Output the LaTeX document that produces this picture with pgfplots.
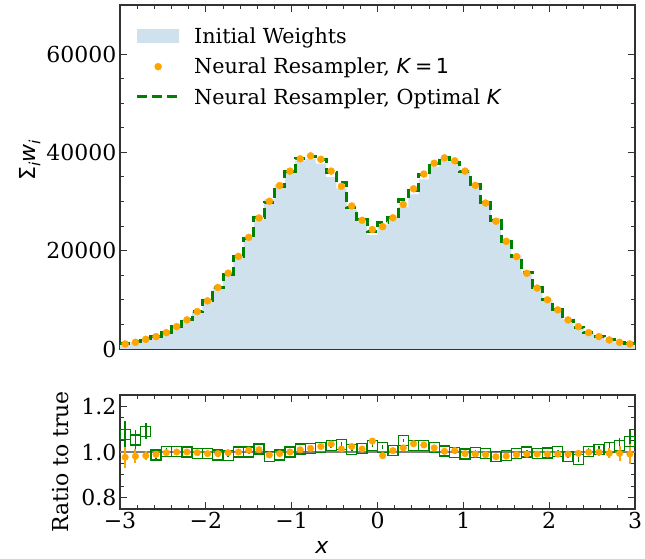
\documentclass[border=0pt]{standalone}
\usepackage{fontspec}
\setmainfont{DejaVu Serif}
\setsansfont{DejaVu Sans}
\usepackage{pgfplots}
\pgfplotsset{compat=1.18}
\usepackage{pgfplotstable}

\definecolor{fillblue}{RGB}{208,225,238}
\definecolor{morange}{RGB}{255,165,0}
\definecolor{mgreen}{RGB}{0,128,0}
\definecolor{framec}{RGB}{50,50,50}

% step edges: left bin edge, initial weights, optimal-K resampler
\pgfplotstableread{
xl F G
-3.00 1040 1120
-2.88 1390 1460
-2.76 2000 2180
-2.64 2550 2520
-2.52 3340 3350
-2.40 4560 4570
-2.28 5920 5920
-2.16 7640 7600
-2.04 9870 9790
-1.92 12610 12450
-1.80 15490 15260
-1.68 18840 18840
-1.56 22540 22540
-1.44 26400 26740
-1.32 30470 29860
-1.20 33490 33050
-1.08 36190 36190
-0.96 38320 38820
-0.84 38680 39260
-0.72 37700 38490
-0.60 34980 35920
-0.48 32680 33790
-0.36 28420 28730
-0.24 25860 26300
-0.12 23190 23890
0.00 25300 25830
0.12 26540 26700
0.24 28880 30320
0.36 31470 32350
0.48 34530 35500
0.60 37130 37840
0.72 38780 38940
0.84 38070 38030
0.96 36460 36130
1.08 33600 33570
1.20 30060 29880
1.32 26560 26080
1.44 22300 21940
1.56 19030 18900
1.68 15540 15540
1.80 12510 12420
1.92 10090 10050
2.04 8030 8040
2.16 5970 5860
2.28 4590 4440
2.40 3330 3340
2.52 2520 2550
2.64 1850 1890
2.76 1370 1410
2.88 1030 1080
3.00 1030 1080
}\steps

% bin centres: K=1 sum, ratios and errors
\pgfplotstableread{
xc O ro eo rg eg
-2.94 1020 0.977 0.045 1.075 0.060
-2.82 1360 0.981 0.030 1.053 0.045
-2.70 1970 0.984 0.020 1.090 0.035
-2.58 2520 0.990 0.015 0.987 0.020
-2.46 3330 0.997 0.012 1.003 0.015
-2.34 4560 1.000 0.010 1.002 0.010
-2.22 5920 1.000 0.009 1.000 0.008
-2.10 7620 0.997 0.008 0.995 0.008
-1.98 9800 0.993 0.007 0.992 0.008
-1.86 12520 0.993 0.007 0.987 0.008
-1.74 15440 0.997 0.007 0.985 0.008
-1.62 18840 1.000 0.007 1.000 0.008
-1.50 22720 1.008 0.007 1.000 0.008
-1.38 26660 1.010 0.007 1.013 0.008
-1.26 30070 0.987 0.007 0.980 0.008
-1.14 33260 0.993 0.007 0.987 0.008
-1.02 36190 1.000 0.007 1.000 0.008
-0.90 38700 1.010 0.007 1.013 0.008
-0.78 39300 1.016 0.007 1.015 0.008
-0.66 38600 1.024 0.007 1.021 0.008
-0.54 36200 1.035 0.007 1.027 0.008
-0.42 33100 1.013 0.007 1.034 0.008
-0.30 29100 1.024 0.007 1.011 0.008
-0.18 26200 1.013 0.007 1.017 0.008
-0.06 24300 1.048 0.007 1.030 0.008
0.06 24900 0.984 0.007 1.021 0.008
0.18 26700 1.006 0.007 1.006 0.008
0.30 29400 1.018 0.007 1.050 0.008
0.42 32600 1.036 0.007 1.028 0.008
0.54 35600 1.031 0.007 1.028 0.008
0.66 37800 1.018 0.007 1.019 0.008
0.78 38900 1.003 0.007 1.004 0.008
0.90 38300 1.006 0.007 0.999 0.008
1.02 36200 0.993 0.007 0.991 0.008
1.14 33300 0.991 0.007 0.999 0.008
1.26 29700 0.988 0.007 0.994 0.008
1.38 26000 0.979 0.007 0.982 0.008
1.50 21900 0.982 0.007 0.984 0.008
1.62 18800 0.988 0.007 0.993 0.008
1.74 15400 0.991 0.007 1.000 0.008
1.86 12400 0.991 0.007 0.993 0.008
1.98 10000 0.991 0.007 0.996 0.008
2.10 7960 0.991 0.008 1.001 0.008
2.22 5920 0.991 0.009 0.981 0.009
2.34 4560 0.994 0.010 0.967 0.010
2.46 3330 0.999 0.012 1.003 0.013
2.58 2520 0.999 0.016 1.010 0.018
2.70 1840 0.994 0.022 1.019 0.025
2.82 1360 0.994 0.032 1.027 0.035
2.94 1020 0.991 0.045 1.047 0.052
}\pts

\pgfplotsset{
  mystyle/.style={
    scale only axis, enlargelimits=false,
    xmin=-3, xmax=3,
    tick align=inside,
    major tick length=7pt, minor tick length=4pt,
    every tick/.style={framec, line width=1pt},
    axis line style={framec, line width=1.3pt},
    tick label style={font=\fontsize{22}{26}\selectfont},
    minor x tick num=4,
  }
}

\begin{document}
\begin{tikzpicture}
\path[use as bounding box] (0pt,0pt) rectangle (645pt,559pt);

\begin{axis}[mystyle,
  at={(120pt,210pt)}, anchor=south west,
  width=515pt, height=344pt,
  ymin=0, ymax=70000,
  xtick={-3,-2,-1,0,1,2,3}, xticklabels={},
  ytick={0,20000,40000,60000}, yticklabels={0,20000,40000,60000},
  minor y tick num=3,
  legend cell align=left,
  legend style={draw=none, fill=none, inner sep=0pt, row sep=9pt,
    at={(axis description cs:0.030,0.94)}, anchor=north west,
    font=\fontsize{20.7}{24}\selectfont},
]
\addplot[const plot, fill=fillblue, draw=none,
  legend image code/.code={\fill[fillblue] (0pt,-7pt) rectangle (42pt,7pt); \path[draw=none,fill=none] (0pt,0pt) -- (55pt,0pt);}]
  table[x=xl, y=F]{\steps} \closedcycle;
\addlegendentry{Initial Weights}
\addplot[only marks, mark=*, mark size=3.5pt, morange, mark options={draw=morange, fill=morange},
  legend image code/.code={\fill[morange] (21pt,0pt) circle (3.5pt); \path[draw=none,fill=none] (0pt,0pt) -- (55pt,0pt);}]
  table[x=xc, y=O]{\pts};
\addlegendentry{Neural Resampler, {\sffamily\textit{K}\,=\,1}}
\addplot[const plot, mgreen, line width=3pt, dash pattern=on 10pt off 5pt,
  legend image code/.code={\draw[mgreen, line width=3pt, dash pattern=on 10pt off 5pt] (0pt,0pt) -- (44pt,0pt); \path[draw=none,fill=none] (0pt,0pt) -- (55pt,0pt);}]
  table[x=xl, y=G]{\steps};
\addlegendentry{Neural Resampler, Optimal {\sffamily\textit{K}}}
\end{axis}

\begin{axis}[mystyle,
  at={(120pt,50pt)}, anchor=south west,
  width=515pt, height=114pt,
  ymin=0.75, ymax=1.25,
  xtick={-3,-2,-1,0,1,2,3}, xticklabels={−3,−2,−1,0,1,2,3},
  ytick={0.8,1.0,1.2}, yticklabels={0.8,1.0,1.2},
  minor y tick num=3,
]
\addplot[gray, line width=2pt] coordinates {(-3,1) (3,1)};
\addplot[only marks, mark=square, mark size=5pt, mgreen, line width=1.2pt,
  error bars/.cd, y dir=both, y explicit, error mark=none,
  error bar style={line width=1.5pt, mgreen}]
  table[x=xc, y=rg, y error=eg]{\pts};
\addplot[only marks, mark=*, mark size=3.3pt, morange, mark options={draw=morange, fill=morange},
  error bars/.cd, y dir=both, y explicit, error mark=none,
  error bar style={line width=2pt, morange}]
  table[x=xc, y=ro, y error=eo]{\pts};
\end{axis}

\node[rotate=90, font=\sffamily\fontsize{22}{26}\selectfont] at (30pt,399pt)
  {Σ\textsubscript{\textit{i}}\textit{w}\textsubscript{\textit{i}}};
\node[rotate=90, font=\fontsize{22}{26}\selectfont] at (61pt,97pt) {Ratio to true};
\node[font=\sffamily\fontsize{22}{26}\selectfont] at (322pt,12pt) {\textit{x}};
\end{tikzpicture}
\end{document}
